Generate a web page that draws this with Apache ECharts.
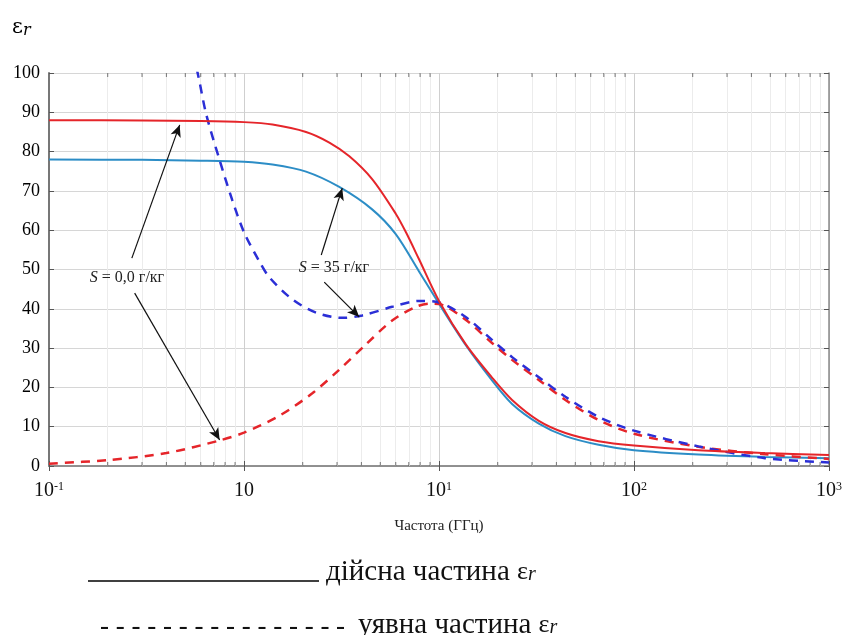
<!DOCTYPE html>
<html>
<head>
<meta charset="utf-8">
<script src="https://cdn.jsdelivr.net/npm/echarts@6/dist/echarts.min.js"></script>
<style>
html, body { margin: 0; padding: 0; background: #fff; }
#chart { width: 845px; height: 635px; }
</style>
</head>
<body>
<div id="chart"></div>
<script>
// частота, ГГц -> ε_r
const realS0 = [[0.1, 88.0], [0.3, 87.9], [0.6, 87.8], [1.0, 87.5], [1.4, 86.9], [2.08, 85.0], [2.74, 82.3],
  [3.47, 78.8], [4.54, 73.0], [6.0, 64.2], [6.78, 59.4], [7.9, 52.6], [10, 42.0], [13.7, 31.0], [18.7, 22.5],
  [23.7, 16.8], [32.5, 11.5], [44.5, 8.4], [65.8, 6.3], [100, 5.2], [214, 4.0], [469, 3.3], [1000, 2.8]]
const realS35 = [[0.1, 78.0], [0.3, 77.9], [0.6, 77.7], [1.0, 77.4], [1.4, 76.7], [2.08, 74.9], [3.08, 71.0],
  [4.54, 65.3], [6.0, 59.0], [7.9, 49.5], [10, 41.3], [13.7, 30.8], [18.7, 21.8], [23.7, 15.8], [32.5, 10.8],
  [44.5, 7.6], [65.8, 5.4], [100, 4.0], [214, 2.9], [469, 2.3], [1000, 2.0]]
const imagS0 = [[0.1, 0.6], [0.2, 1.5], [0.4, 3.3], [0.75, 6.5], [1.0, 8.5], [1.52, 12.8], [2.24, 18.5],
  [3.08, 24.5], [4.23, 31.0], [5.75, 37.0], [7.6, 40.5], [9.0, 41.3], [10, 41.2], [13.7, 37.2], [18.7, 31.3],
  [23.7, 27.0], [32.5, 21.9], [44.5, 16.8], [65.8, 11.7], [100, 8.2], [214, 4.9], [469, 3.0], [1000, 1.8]]
const imagS35 = [[0.55, 105], [0.59, 98], [0.64, 89.5], [0.75, 77.8], [0.87, 67.7], [1.0, 59.5], [1.2, 52.0],
  [1.35, 48.0], [1.77, 42.4], [2.35, 39.0], [3.19, 37.7], [4.04, 38.3], [5.75, 40.5], [7.9, 42.0], [10, 41.6],
  [13.7, 37.9], [18.7, 32.1], [23.7, 27.7], [32.5, 22.6], [44.5, 17.6], [65.8, 12.5], [100, 9.0], [214, 5.0],
  [469, 2.0], [1000, 0.9]]

// arrows from the S labels to the curves: [from, to]
const arrowsS0 = [[[0.266, 52.9], [0.468, 86.8]], [[0.275, 44.0], [0.75, 6.6]]]
const arrowsS35 = [[[2.49, 53.7], [3.19, 70.7]], [[2.58, 46.8], [3.9, 37.9]]]

const xMin = 0.1
const xMax = 1000
const yMax = 100

// 2..9 inside each decade
const minorX = []
for (let d = xMin; d < xMax; d *= 10) {
  for (let m = 2; m <= 9; m++) minorX.push(+(d * m).toPrecision(3))
}

const serif = 'Liberation Serif'
const red = '#e5252a'
const lightBlue = '#2c8dc6'
const darkBlue = '#2b2fd6'

const chart = echarts.init(document.getElementById('chart'))

function xLabel(v) {
  const e = Math.round(Math.log10(v))
  if (e === 0) return '{b|10}'
  return '{b|10}{s|' + e + '}'
}

const frameLine = { show: true, lineStyle: { color: '#8a8a8a', width: 1.5 } }
const eps = (size) => ({
  e: { fontFamily: serif, fontSize: size, color: '#111' },
  r: { fontFamily: serif, fontStyle: 'italic', fontSize: Math.round(size * 0.75), color: '#111', padding: [6, 0, 0, 0] },
})

chart.setOption({
  animation: false,
  backgroundColor: '#fff',
  grid: { left: 49, right: 14, top: 73, bottom: 169 },
  xAxis: [
    {
      type: 'log',
      logBase: 10,
      min: xMin,
      max: xMax,
      name: 'Частота (ГГц)',
      nameLocation: 'middle',
      nameGap: 53,
      nameTextStyle: { fontFamily: serif, fontSize: 15, color: '#222' },
      axisLine: frameLine,
      axisTick: { inside: true, length: 5, lineStyle: { color: '#555' } },
      axisLabel: {
        margin: 15,
        formatter: xLabel,
        rich: {
          b: { fontFamily: serif, fontSize: 20, color: '#111' },
          s: { fontFamily: serif, fontSize: 12, color: '#111', verticalAlign: 'top' },
        },
      },
      splitLine: { show: true, lineStyle: { color: '#cfcfcf', width: 1 } },
    },
    {
      type: 'log',
      logBase: 10,
      min: xMin,
      max: xMax,
      position: 'top',
      axisLine: frameLine,
      axisTick: { inside: true, length: 5, lineStyle: { color: '#555' } },
      axisLabel: { show: false },
      splitLine: { show: false },
    },
  ],
  yAxis: [
    {
      type: 'value',
      min: 0,
      max: yMax,
      interval: 10,
      axisLine: { show: true, lineStyle: { color: '#777', width: 2 } },
      axisTick: { show: true, inside: true, length: 5, lineStyle: { color: '#555' } },
      axisLabel: { margin: 9, fontFamily: serif, fontSize: 18, color: '#000' },
      splitLine: { show: true, lineStyle: { color: '#d6d6d6', width: 1 } },
    },
    {
      type: 'value',
      min: 0,
      max: yMax,
      interval: 10,
      position: 'right',
      axisLine: frameLine,
      axisTick: { show: true, inside: true, length: 5, lineStyle: { color: '#555' } },
      axisLabel: { show: false },
      splitLine: { show: false },
    },
  ],
  series: [
    {
      // minor ticks on the bottom + faint minor grid
      type: 'scatter',
      silent: true,
      z: 1,
      symbol: 'rect',
      symbolSize: [1, 4],
      symbolOffset: [0, -2],
      itemStyle: { color: '#555' },
      data: minorX.map(v => [v, 0]),
      markLine: {
        silent: true,
        z: 1,
        symbol: 'none',
        label: { show: false },
        lineStyle: { color: '#ececec', width: 1, type: 'solid' },
        data: minorX.map(v => ({ xAxis: v })),
      },
    },
    {
      // minor ticks on the top + annotation arrows
      type: 'scatter',
      silent: true,
      z: 5,
      symbol: 'rect',
      symbolSize: [1, 4],
      symbolOffset: [0, 2],
      itemStyle: { color: '#555' },
      data: minorX.map(v => [v, yMax]),
      markLine: {
        silent: true,
        z: 6,
        symbol: ['none', 'arrow'],
        symbolSize: [8, 12],
        label: { show: false },
        lineStyle: { color: '#111', width: 1.2, type: 'solid' },
        data: arrowsS0.concat(arrowsS35).map(a => [{ coord: a[0] }, { coord: a[1] }]),
      },
    },
    {
      name: 'S0 real',
      type: 'line',
      smooth: 0.3,
      showSymbol: false,
      data: realS0,
      lineStyle: { color: red, width: 2 },
      z: 4,
    },
    {
      name: 'S35 real',
      type: 'line',
      smooth: 0.3,
      showSymbol: false,
      data: realS35,
      lineStyle: { color: lightBlue, width: 2 },
      z: 3,
    },
    {
      name: 'S0 imag',
      type: 'line',
      smooth: 0.3,
      showSymbol: false,
      data: imagS0,
      lineStyle: { color: red, width: 2.5, type: [9, 7] },
      z: 3,
    },
    {
      name: 'S35 imag',
      type: 'line',
      smooth: 0.3,
      showSymbol: false,
      data: imagS35,
      lineStyle: { color: darkBlue, width: 2.5, type: [9, 7] },
      z: 3,
    },
  ],
  graphic: [
    {
      type: 'text',
      left: 12,
      top: 17,
      z: 100,
      style: {
        text: '{e|ε}{r|r}',
        rich: {
          e: { fontFamily: 'DejaVu Serif', fontSize: 21, color: '#111' },
          r: { fontFamily: 'DejaVu Serif', fontStyle: 'italic', fontSize: 16, color: '#111', padding: [6, 0, 0, 0] },
        },
      },
    },
    {
      type: 'text',
      x: 127,
      y: 278,
      z: 100,
      style: {
        text: '{i|S} = 0,0 г/кг',
        align: 'center',
        verticalAlign: 'middle',
        fontFamily: serif,
        fontSize: 16,
        fill: '#222',
        rich: { i: { fontFamily: serif, fontStyle: 'italic', fontSize: 16, color: '#222' } },
      },
    },
    {
      type: 'text',
      x: 334,
      y: 268,
      z: 100,
      style: {
        text: '{i|S} = 35 г/кг',
        align: 'center',
        verticalAlign: 'middle',
        fontFamily: serif,
        fontSize: 16,
        fill: '#222',
        rich: { i: { fontFamily: serif, fontStyle: 'italic', fontSize: 16, color: '#222' } },
      },
    },
    {
      type: 'line',
      z: 100,
      shape: { x1: 88, y1: 581, x2: 319, y2: 581 },
      style: { stroke: '#000', lineWidth: 1.5 },
    },
    {
      type: 'text',
      x: 326,
      y: 572,
      z: 100,
      style: {
        text: 'дійсна частина {e|ε}{r|r}',
        verticalAlign: 'middle',
        fontFamily: serif,
        fontSize: 29,
        fill: '#111',
        rich: eps(26),
      },
    },
    {
      type: 'text',
      x: 100,
      y: 627,
      z: 100,
      style: {
        text: '- - - - - - - - - - - - - - - -',
        verticalAlign: 'middle',
        fontFamily: serif,
        fontSize: 27,
        fill: '#111',
      },
    },
    {
      type: 'text',
      x: 358,
      y: 625,
      z: 100,
      style: {
        text: 'уявна частина {e|ε}{r|r}',
        verticalAlign: 'middle',
        fontFamily: serif,
        fontSize: 29,
        fill: '#111',
        rich: eps(26),
      },
    },
  ],
})
</script>
</body>
</html>
